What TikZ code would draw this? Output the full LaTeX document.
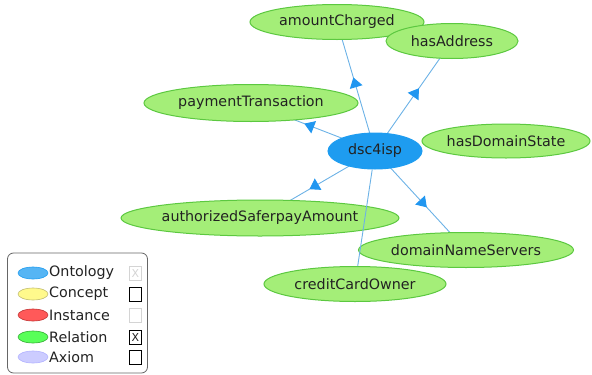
\documentclass[tikz,border=0pt]{standalone}
\usepackage{fontspec}
\setmainfont{DejaVu Sans}
\usetikzlibrary{shapes.geometric,arrows.meta,decorations.markings,backgrounds}

\definecolor{relfill}{HTML}{A4EE78}
\definecolor{relline}{HTML}{5CC840}
\definecolor{ontfill}{HTML}{1E9CF0}
\definecolor{edgeblue}{HTML}{6CB2E6}
\definecolor{tipblue}{HTML}{2096F0}
\definecolor{labeltext}{HTML}{222222}
\definecolor{boxgray}{HTML}{D4D4D4}

\tikzset{
  x=1pt, y=-1pt,
  relnode/.style={ellipse, draw=relline, line width=1pt, fill=relfill, inner sep=0pt,
    text=labeltext, font=\fontsize{14.3}{16}\selectfont},
  ontnode/.style={ellipse, draw=ontfill, line width=1pt, fill=ontfill, inner sep=0pt,
    text=labeltext, font=\fontsize{14.3}{16}\selectfont},
  link/.style={draw=edgeblue, line width=0.9pt},
  arrowlink/.style={link, postaction={decorate}, decoration={markings,
    mark=at position 0.57 with {\arrow{Triangle[width=13pt,length=10pt,fill=tipblue,color=tipblue]}}}},
  legdot/.style={ellipse, minimum width=30pt, minimum height=12pt, inner sep=0pt, line width=0.6pt},
  legtext/.style={anchor=west, inner sep=0pt, text=labeltext, font=\fontsize{14.3}{16}\selectfont},
  chk/.style={draw=#1, line width=0.8pt, minimum width=12pt, minimum height=14pt, inner sep=0pt},
}

\begin{document}
\begin{tikzpicture}
\useasboundingbox (0,0) rectangle (592,375);

% relation and ontology nodes
\node[relnode, minimum width=174pt, minimum height=35pt] (amount) at (337,22) {amountCharged};
\node[relnode, minimum width=132pt, minimum height=35pt] (address) at (452,41) {hasAddress};
\node[relnode, minimum width=214pt, minimum height=37pt] (payment) at (251,103) {paymentTransaction};
\node[relnode, minimum width=168pt, minimum height=34pt] (domstate) at (506,141) {hasDomainState};
\node[ontnode, minimum width=94pt, minimum height=36pt] (dsc) at (375,151) {dsc4isp};
\node[relnode, minimum width=276pt, minimum height=36pt] (authorized) at (260,218) {authorizedSaferpayAmount};
\node[relnode, minimum width=215pt, minimum height=35pt] (servers) at (466,250) {domainNameServers};
\node[relnode, minimum width=182pt, minimum height=35pt] (owner) at (355,284) {creditCardOwner};

% connectors run centre to centre, underneath the nodes
\begin{scope}[on background layer]
\draw[arrowlink] (dsc.center) -- (amount.center);
\draw[arrowlink] (dsc.center) -- (address.center);
\draw[arrowlink] (dsc.center) -- (payment.center);
\draw[arrowlink] (dsc.center) -- (authorized.center);
\draw[arrowlink] (dsc.center) -- (servers.center);
\end{scope}
% this one crosses over authorizedSaferpayAmount
\draw[link] (dsc) -- (owner);

% legend
\node[draw=black!60, line width=0.8pt, rounded corners=6pt, minimum width=140pt, minimum height=120pt,
  inner sep=0pt] (legend) at (77.5,313) {};
\node[legdot, fill=ontfill!75, draw=ontfill] (dotont) at (33,273) {};
\node[legdot, fill=yellow!45, draw=yellow!60!black!70] (dotcon) at (33,294) {};
\node[legdot, fill=red!65, draw=red!70!black!80] (dotins) at (33,315) {};
\node[legdot, fill=green!65, draw=green!60!black!80] (dotrel) at (33,337) {};
\node[legdot, fill=blue!20, draw=blue!30] (dotaxi) at (33,357) {};
\node[legtext] (txtont) at (49,273) {Ontology};
\node[legtext] (txtcon) at (49,294) {Concept};
\node[legtext] (txtins) at (49,315) {Instance};
\node[legtext] (txtrel) at (49,337) {Relation};
\node[legtext] (txtaxi) at (49,357) {Axiom};
\node[chk=boxgray, text=boxgray, font=\fontsize{11}{12}\selectfont] (chkont) at (135.5,273) {X};
\node[chk=black] (chkcon) at (135.5,294) {};
\node[chk=boxgray] (chkins) at (135.5,315) {};
\node[chk=black, text=labeltext, font=\fontsize{11}{12}\selectfont] (chkrel) at (135.5,337) {X};
\node[chk=black] (chkaxi) at (135.5,357) {};
\end{tikzpicture}
\end{document}
